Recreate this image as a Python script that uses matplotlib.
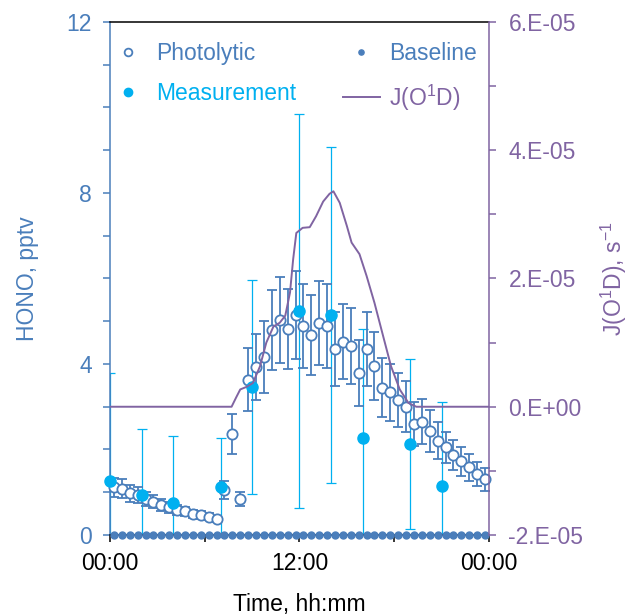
import numpy as np
import matplotlib
matplotlib.use('Agg')
import matplotlib.pyplot as plt
from matplotlib.ticker import MultipleLocator, FixedLocator

plt.rcParams['font.family'] = ['Liberation Sans', 'DejaVu Sans']
plt.rcParams['font.size'] = 16.5
plt.rcParams['mathtext.fontset'] = 'custom'
plt.rcParams['mathtext.rm'] = 'Liberation Sans'
plt.rcParams['mathtext.it'] = 'Liberation Sans'

# colours
c_blue = '#4a7ebb'
c_cyan = '#00b0f0'
c_purple = '#8064a2'

# half-hourly photolytic HONO (pptv), centred on hh:15 / hh:45
photo_hours = np.arange(0.25, 24, 0.5)
photolytic = [1.12, 1.08, 0.98, 0.94, 0.84, 0.78, 0.70, 0.65, 0.58, 0.55, 0.49, 0.47, 0.43, 0.37,
              1.05, 2.36, 0.84, 3.63, 3.93, 4.17, 4.80, 5.03, 4.82, 5.15, 4.89, 4.68, 4.96, 4.89,
              4.35, 4.52, 4.42, 3.79, 4.35, 3.96, 3.45, 3.34, 3.15, 3.00, 2.60, 2.65, 2.43, 2.21,
              2.05, 1.87, 1.72, 1.58, 1.43, 1.30]
photo_err = [0.22, 0.22, 0.20, 0.19, 0.17, 0.16, 0.14, 0.13, 0.12, 0.11, 0.10, 0.09, 0.09, 0.07,
             0.21, 0.47, 0.17, 0.74, 0.78, 0.84, 0.93, 1.00, 0.93, 1.03, 0.98, 0.93, 0.98, 0.99,
             0.86, 0.88, 0.89, 0.77, 0.86, 0.80, 0.69, 0.67, 0.63, 0.60, 0.52, 0.53, 0.49, 0.44,
             0.37, 0.36, 0.34, 0.31, 0.28, 0.27]

# baseline (all zero)
baseline = [0.0] * 48

# measurements with uncertainty
meas_hours = [0, 2, 4, 7, 9, 12, 14, 16, 19, 21]
measurement = [1.27, 0.94, 0.76, 1.13, 3.47, 5.24, 5.15, 2.26, 2.12, 1.15]
meas_err = [2.53, 1.53, 1.56, 1.15, 2.50, 4.60, 3.93, 2.57, 1.99, 1.97]

# J(O1D) in units of 1e-5 s-1
j_hours = [0, 7.7, 8.0, 8.25, 8.65, 9.05, 9.5, 9.9, 10.35, 10.75, 11.1, 11.4, 11.6, 11.8,
           12.2, 12.65, 13.05, 13.5, 13.9, 14.15, 14.55, 15.0, 15.3, 15.8, 16.25, 16.75,
           17.3, 17.8, 18.35, 18.9, 19.4, 24]
j_o1d = [0, 0, 0.15, 0.27, 0.31, 0.37, 0.63, 1.0, 1.25, 1.31, 1.42, 1.78, 2.3, 2.71,
         2.79, 2.8, 2.97, 3.2, 3.32, 3.36, 3.18, 2.82, 2.56, 2.38, 2.04, 1.62,
         1.10, 0.63, 0.27, 0.06, 0, 0]

fig = plt.figure(figsize=(6.31, 6.16), dpi=100)
ax = fig.add_axes([0.1743, 0.1315, 0.6006, 0.8328])
ax2 = ax.twinx()

# measurement error bars (clipped at axis), markers drawn unclipped
ax.errorbar(meas_hours, measurement, yerr=meas_err, fmt='none', ecolor=c_cyan,
            elinewidth=0.9, capsize=3.3, capthick=0.9, zorder=2)
ax.errorbar(photo_hours, photolytic, yerr=photo_err, fmt='none', ecolor=c_blue,
            elinewidth=1.3, capsize=3.3, capthick=1.3, zorder=3)
ax.plot(photo_hours, photolytic, 'o', ms=7.4, mfc='white', mec=c_blue, mew=1.3,
        zorder=4, clip_on=False, label='Photolytic')
ax.plot(meas_hours, measurement, 'o', ms=8, color=c_cyan, zorder=5, clip_on=False,
        label='Measurement')
ax.plot(photo_hours, baseline, 'o', ms=5, color=c_blue, zorder=6, clip_on=False,
        label='Baseline')

ax2.plot(j_hours, np.array(j_o1d) * 1e-5, color=c_purple, lw=1.4, label='J(O$^1$D)')

ax.set_xlim(0, 24)
ax.set_ylim(0, 12)
ax2.set_ylim(-2e-5, 6e-5)

ax.xaxis.set_major_locator(FixedLocator([0, 6, 12, 18, 24]))
ax.set_xticklabels(['00:00', '', '12:00', '', '00:00'])
ax.yaxis.set_major_locator(MultipleLocator(4))
ax.yaxis.set_minor_locator(MultipleLocator(1))
ax2.set_yticks([-2e-5, 0, 2e-5, 4e-5, 6e-5])
ax2.set_yticklabels(['-2.E-05', '0.E+00', '2.E-05', '4.E-05', '6.E-05'])
ax2.yaxis.set_minor_locator(MultipleLocator(1e-5))

ax.tick_params(axis='x', direction='out', length=5, width=1.1, pad=7, colors='black')
ax.tick_params(axis='y', which='both', direction='out', length=5, width=1.1, pad=8,
               colors=c_blue)
ax2.tick_params(axis='y', which='both', direction='out', length=5, width=1.1, pad=9,
                colors=c_purple)

for s in ['top', 'bottom']:
    ax.spines[s].set_color('black')
ax.spines['left'].set_color(c_blue)
ax.spines['right'].set_visible(False)
ax2.spines['left'].set_visible(False)
ax2.spines['top'].set_visible(False)
ax2.spines['bottom'].set_visible(False)
ax2.spines['right'].set_color(c_purple)
for a in (ax, ax2):
    for s in a.spines.values():
        s.set_linewidth(1.1)

ax.set_ylabel('HONO, pptv', color=c_blue, labelpad=20)
ax2.set_ylabel('J(O$^1$D), s$^{-1}$', color=c_purple, labelpad=11)
ax.set_xlabel('Time, hh:mm', labelpad=13)

h1, l1 = ax.get_legend_handles_labels()
h2, l2 = ax2.get_legend_handles_labels()
handles = [h1[0], h1[1], h1[2], h2[0]]
labels = [l1[0], l1[1], l1[2], l2[0]]
leg = ax2.legend(handles, labels, ncol=2, loc='upper left', bbox_to_anchor=(-0.018, 0.974),
                 frameon=False, markerscale=0.75, handlelength=1.6, handletextpad=0.4,
                 columnspacing=2.05, labelspacing=0.75, borderaxespad=0, borderpad=0.3)
for t, c in zip(leg.get_texts(), [c_blue, c_cyan, c_blue, c_purple]):
    t.set_color(c)

fig.savefig('out.png', dpi=100)
